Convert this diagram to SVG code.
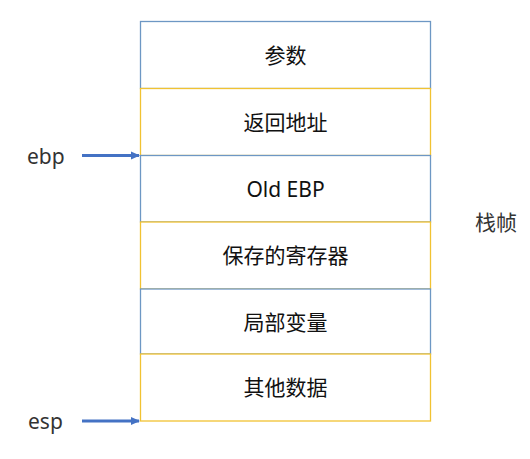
<svg xmlns="http://www.w3.org/2000/svg" width="530" height="459" viewBox="0 0 530 459">
<style>
.b{fill:#fff;stroke:#6d97c4;stroke-width:1.3}
.y{fill:#fff;stroke:#f1c232;stroke-width:1.3}
.t{font-family:"Noto Sans","Noto Sans CJK SC",sans-serif;font-size:21px;fill:#111;text-anchor:middle;dominant-baseline:central}
.l{font-family:"Noto Sans","Noto Sans CJK SC",sans-serif;font-size:21px;fill:#333;dominant-baseline:central}
.a{stroke:#4472c4;stroke-width:3;fill:none}
</style>
<defs>
<marker id="ah" markerWidth="10" markerHeight="10" refX="8" refY="5" orient="auto" markerUnits="userSpaceOnUse">
<path d="M0,1 L9,5 L0,9 z" fill="#4472c4"/>
</marker>
</defs>
<rect width="530" height="459" fill="#fff"/>
<g id="n1"><rect class="b" x="140.5" y="21.5" width="290" height="67"/><text class="t" x="285.5" y="55">参数</text></g>
<g id="n2"><rect class="y" x="140.5" y="88.5" width="290" height="67"/><text class="t" x="285.5" y="122">返回地址</text></g>
<g id="n3"><rect class="b" x="140.5" y="155.5" width="290" height="66.5"/><text class="t" x="285.5" y="188.5">Old EBP</text></g>
<g id="n4"><rect class="y" x="140.5" y="222" width="290" height="67"/><text class="t" x="285.5" y="255">保存的寄存器</text></g>
<g id="n5"><rect class="b" x="140.5" y="289" width="290" height="65"/><text class="t" x="285.5" y="321.5">局部变量</text></g>
<g id="n6"><rect class="y" x="140.5" y="354" width="290" height="67"/><text class="t" x="285.5" y="387">其他数据</text></g>
<g id="labels">
<text class="l" x="27" y="156">ebp</text>
<text class="l" x="28" y="421">esp</text>
<text class="l" x="475" y="222">栈帧</text>
</g>
<g id="connectors">
<line class="a" x1="82" y1="155.5" x2="139" y2="155.5" marker-end="url(#ah)"/>
<line class="a" x1="82" y1="421" x2="139" y2="421" marker-end="url(#ah)"/>
</g>
</svg>
